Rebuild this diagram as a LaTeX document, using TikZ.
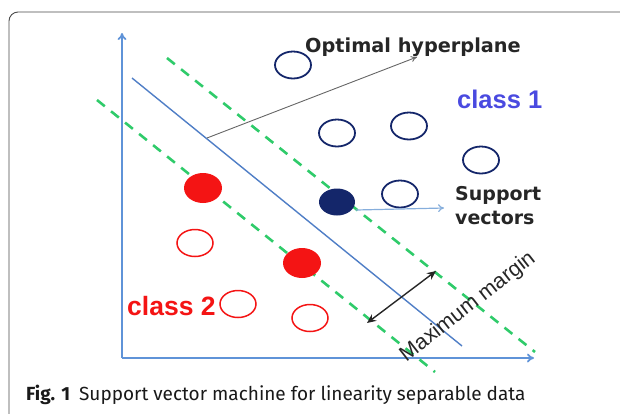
\documentclass[tikz,border=0pt]{standalone}
\usepackage{fontspec}
\setmainfont{Liberation Sans}
\newfontfamily\djb{DejaVu Sans}
\newfontfamily\capfont{Fira Sans}
\usetikzlibrary{shapes.geometric,arrows.meta}
\definecolor{axisblue}{HTML}{5F93D8}
\definecolor{hypblue}{HTML}{4F7EC6}
\definecolor{dgreen}{HTML}{2FCB6A}
\definecolor{navy}{HTML}{14266A}
\definecolor{redc}{HTML}{F41414}
\definecolor{cls1}{HTML}{4A4AE0}
\definecolor{framegray}{HTML}{4A4A4A}
\definecolor{svblue}{HTML}{86AEDC}
\tikzset{
  pt/.style={ellipse, inner sep=0pt, minimum width=36pt, minimum height=27pt, line width=1.8pt},
  navyring/.style={pt, draw=navy},
  navydot/.style={pt, fill=navy},
  redring/.style={pt, draw=redc, line width=1.5pt},
  reddot/.style={pt, fill=redc, minimum width=38pt, minimum height=30pt},
  axisline/.style={draw=axisblue, line width=1.8pt, -{To[length=7pt,width=9pt]}},
  margin/.style={draw=dgreen, line width=2.6pt, dash pattern=on 10pt off 8pt},
  boldlabel/.style={font=\djb\bfseries\fontsize{19.3}{21}\selectfont, text=black!85, inner sep=0pt},
}
\begin{document}
\begin{tikzpicture}[x=1pt,y=-1pt]
\useasboundingbox (0,0) rectangle (620,413);
% frame
\draw[framegray, line width=0.9pt, rounded corners=9pt] (9,416) -- (9,12) -- (624,12);
% axes
\coordinate (O) at (122,358);
\coordinate (Ytip) at (122,33);
\coordinate (Xtip) at (534,358);
\draw[axisline] (O) -- (Ytip);
\draw[axisline] (O) -- (Xtip);
% margin lines and hyperplane
\coordinate (u1) at (167,58);  \coordinate (u2) at (535,352);
\coordinate (l1) at (97,100);  \coordinate (l2) at (435,372);
\coordinate (h1) at (132,78);  \coordinate (h2) at (462,346);
\draw[margin] (u1) -- (u2);
\draw[margin] (l1) -- (l2);
\draw[hypblue, line width=1.4pt] (h1) -- (h2);
% class 1 points
\node[navyring] (c1) at (293,65) {};
\node[navyring] (c2) at (337,133) {};
\node[navyring] (c3) at (409,126) {};
\node[navyring] (c4) at (481,160) {};
\node[navyring] (c5) at (400,194) {};
\node[navydot] (s1) at (337,202) {};
% class 2 points
\node[reddot] (r1) at (203,188) {};
\node[reddot] (r2) at (302,263) {};
\node[redring] (r3) at (195,243) {};
\node[redring] (r4) at (238,304) {};
\node[redring] (r5) at (310,318) {};
% labels
\node[boldlabel, anchor=west] (opt) at (305,47) {Optimal hyperplane};
\node[anchor=west, inner sep=0pt, text=cls1, font=\bfseries\fontsize{25.5}{28}\selectfont] (cl1) at (457,99) {class 1};
\node[anchor=west, inner sep=0pt, text=redc, font=\bfseries\fontsize{26.5}{28}\selectfont] (cl2) at (127,306) {class 2};
\node[boldlabel, anchor=north west, align=left, font=\djb\bfseries\fontsize{19}{24.5}\selectfont] (sv) at (455,186) {Support\\vectors};
\node[rotate=38, inner sep=0pt, text=black!85, font=\fontsize{21.5}{23}\selectfont] (mm) at (468,307) {Maximum margin};
% connectors
\coordinate (hp) at (207,138);
\coordinate (optip) at (417,57);
\draw[black!60, line width=0.9pt, -{To[length=6pt,width=6pt]}] (hp) -- (optip);
\coordinate (svtip) at (444,208);
\draw[svblue, line width=1.2pt, -{To[length=6pt,width=8pt]}] (s1.east) ++(0,8) -- (svtip);
\coordinate (mA) at (367,323);
\coordinate (mB) at (436,271);
\draw[black!85, line width=1.4pt, {Stealth[length=9pt,width=8pt]}-{Stealth[length=9pt,width=8pt]}] (mA) -- (mB);
% caption
\node[anchor=west, inner sep=0pt, text=black!90, font=\capfont\fontsize{19}{22}\selectfont] (cap) at (26,395) {\textbf{Fig. 1}\hspace{9pt}Support vector machine for linearity separable data};
\end{tikzpicture}
\end{document}
